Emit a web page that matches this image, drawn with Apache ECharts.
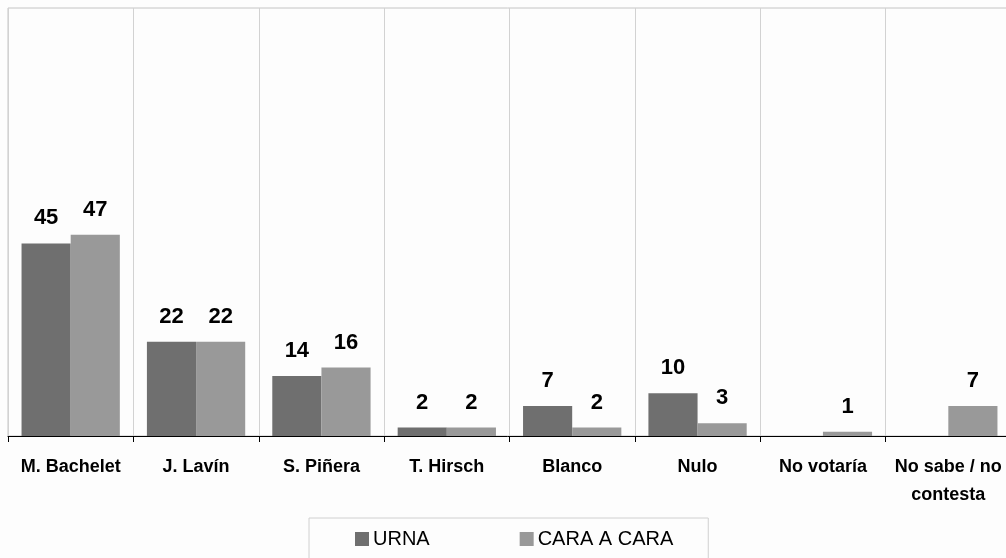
<!DOCTYPE html>
<html>
<head>
<meta charset="utf-8">
<script src="https://cdn.jsdelivr.net/npm/echarts@6/dist/echarts.min.js"></script>
<style>
  html, body { margin: 0; padding: 0; background: #fdfdfd; }
  #chart { width: 1006px; height: 558px; }
</style>
</head>
<body>
<div id="chart"></div>
<script>
const categories = ['M. Bachelet', 'J. Lavín', 'S. Piñera', 'T. Hirsch', 'Blanco', 'Nulo', 'No votaría', 'No sabe / no\ncontesta']
const urna = [45, 22, 14, 2, 7, 10, 0, 0]
const caraACara = [47, 22, 16, 2, 2, 3, 1, 7]

const chart = echarts.init(document.getElementById('chart'))

// etiqueta en negrita sobre cada barra, sin mostrar los ceros
const barLabel = {
  show: true,
  position: 'top',
  distance: 14,
  fontFamily: 'Liberation Sans, Arial, sans-serif',
  fontWeight: 'bold',
  fontSize: 22,
  color: '#000',
  formatter: p => (p.value ? p.value : '')
}

chart.setOption({
  backgroundColor: '#fdfdfd',
  animation: false,
  grid: {
    left: 8,
    top: 8,
    width: 1003,
    height: 428,
    outerBoundsMode: 'none',
    containLabel: false,
    show: true,
    borderColor: '#c4c4c4',
    borderWidth: 1
  },
  legend: {
    top: 518,
    left: 309,
    data: ['URNA', 'CARA A CARA'],
    icon: 'rect',
    itemWidth: 14,
    itemHeight: 14,
    itemGap: 90,
    padding: [11, 35, 30, 46],
    borderColor: '#d0d0d0',
    borderWidth: 1,
    textStyle: {
      fontFamily: 'Liberation Sans, Arial, sans-serif',
      fontSize: 20,
      padding: [0, 0, 0, -1],
      color: '#000'
    }
  },
  xAxis: {
    type: 'category',
    data: categories,
    axisLine: { lineStyle: { color: '#000' } },
    axisTick: { show: true, length: 6, lineStyle: { color: '#000' } },
    axisLabel: {
      interval: 0,
      margin: 17,
      fontFamily: 'Liberation Sans, Arial, sans-serif',
      fontWeight: 'bold',
      fontSize: 18,
      lineHeight: 28,
      color: '#000'
    },
    splitLine: { show: true, lineStyle: { color: '#d2d2d2' } }
  },
  yAxis: {
    type: 'value',
    min: 0,
    max: 100,
    show: false,
    splitLine: { show: false }
  },
  series: [{
    name: 'URNA',
    type: 'bar',
    data: urna,
    barGap: '0%',
    barCategoryGap: '21.6%',
    itemStyle: { color: '#6f6f6f' },
    label: barLabel
  }, {
    name: 'CARA A CARA',
    type: 'bar',
    data: caraACara,
    itemStyle: { color: '#999999' },
    label: barLabel
  }]
})
</script>
</body>
</html>
